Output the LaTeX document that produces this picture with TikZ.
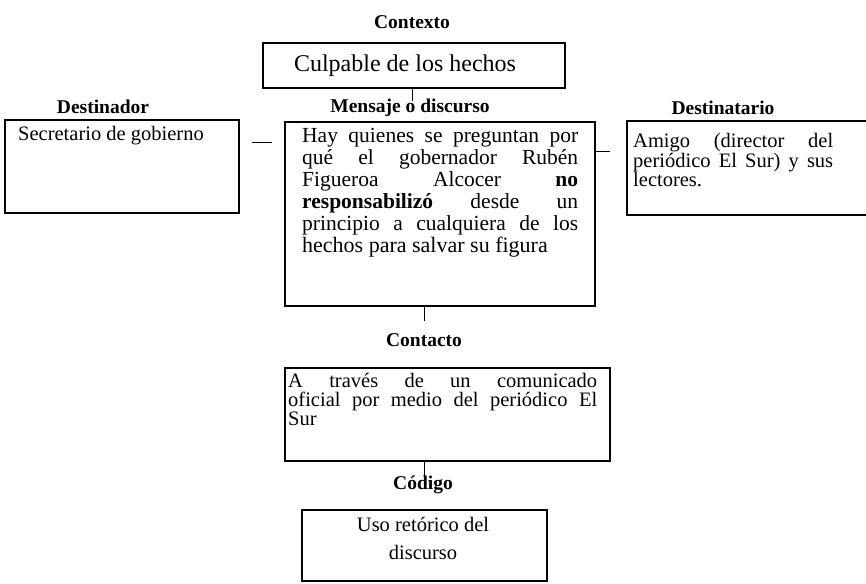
\documentclass[tikz,border=0pt]{standalone}
\usepackage{fontspec}
\setmainfont{Liberation Serif}
\newcommand{\jline}[2]{\makebox[#1][s]{#2}}
\begin{document}
\begin{tikzpicture}[x=1pt,y=-1pt,
  frame/.style={draw=black, line width=1.3pt, inner sep=0pt, outer sep=0pt, anchor=north west},
  lab/.style={font=\fontsize{19.5}{22}\selectfont\bfseries, inner sep=0pt},
  body/.style={font=\fontsize{20.5}{#1}\selectfont, inner sep=0pt, align=left, anchor=north west},
  body/.default=22,
  tick/.style={line width=1pt}]
\useasboundingbox (0,0) rectangle (866,583);
\clip (0,0) rectangle (866,583);
% boxes
\node[frame, minimum width=302pt, minimum height=45pt] (ctx) at (263,43) {};
\node[frame, minimum width=234pt, minimum height=93pt] (dor) at (5,120) {};
\node[frame, minimum width=310pt, minimum height=184pt] (men) at (285,122) {};
\node[frame, minimum width=300pt, minimum height=94pt] (tar) at (627,121) {};
\node[frame, minimum width=325pt, minimum height=93pt] (con) at (285,368) {};
\node[frame, minimum width=245pt, minimum height=71pt] (cod) at (302,510) {};
% labels
\node[lab] (lctx) at (412,22) {Contexto};
\node[lab] (ldor) at (103,107) {Destinador};
\node[lab] (lmen) at (410,108) {Mensaje o discurso};
\node[lab] (ltar) at (723,108) {Destinatario};
\node[lab] (lcon) at (424,340) {Contacto};
\node[lab] (lcod) at (423,485) {Código};
% texts
\node[body, anchor=center, font=\fontsize{24}{26}\selectfont] (tctx) at (405,66) {Culpable de los hechos};
\node[body] (tdor) at (18,126) {Secretario de gobierno};
\node[body=22, font=\fontsize{21.5}{22}\selectfont] (tmen) at (302,128) {\jline{276pt}{Hay quienes se preguntan por}\\ \jline{276pt}{qué el gobernador Rubén}\\ \jline{276pt}{Figueroa Alcocer \textbf{no}}\\ \jline{276pt}{\textbf{responsabilizó} desde un}\\ \jline{276pt}{principio a cualquiera de los}\\ {\fontsize{22}{22}\selectfont hechos para salvar su figura}};
\node[body=18.5] (ttar) at (633,133) {\jline{200pt}{Amigo (director del}\\ \jline{200pt}{periódico El Sur) y sus}\\ lectores.};
\node[body=19] (tcon) at (288,373) {\jline{309pt}{A través de un comunicado}\\ \jline{309pt}{oficial por medio del periódico El}\\ Sur};
\node[body=28, align=center, anchor=north] (tcod) at (423,517) {Uso retórico del\\ discurso};
% connectors
\draw[tick] (ctx.south -| lctx.center) -- ++(0,13);
\draw[tick] (dor.east |- 0,142) ++(13,0) -- ++(20,0);
\draw[tick] (men.east |- 0,151) -- ++(15,0);
\draw[tick] (men.south -| lcon.center) -- ++(0,15);
\draw[tick] (con.south -| lcon.center) -- ++(0,15);
\end{tikzpicture}
\end{document}
